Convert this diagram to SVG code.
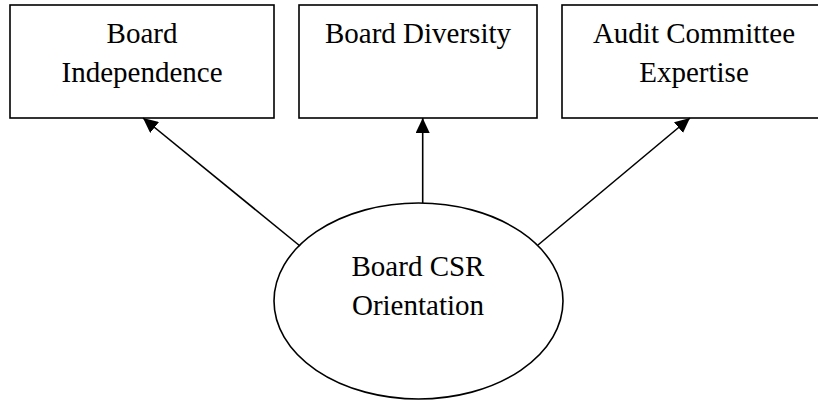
<svg xmlns="http://www.w3.org/2000/svg" width="818" height="400" viewBox="0 0 818 400">
<defs>
<style>
.box{fill:#fff;stroke:#000;stroke-width:1.6}
.lbl{font-family:"Liberation Serif","Times New Roman",serif;font-size:29px;fill:#000;text-anchor:middle}
.con{stroke:#000;stroke-width:1.6;fill:none}
</style>
<marker id="ah" markerUnits="userSpaceOnUse" markerWidth="16" markerHeight="14" refX="15" refY="7" orient="auto">
<path d="M0,0 L15,7 L0,14 Z" fill="#000"/>
</marker>
</defs>
<rect width="818" height="400" fill="#fff"/>
<g id="node-independence">
<rect class="box" x="10" y="5" width="264" height="113"/>
<text class="lbl" x="142" y="43">Board</text>
<text class="lbl" x="142" y="82">Independence</text>
</g>
<g id="node-diversity">
<rect class="box" x="299" y="5" width="238" height="113"/>
<text class="lbl" x="418" y="43">Board Diversity</text>
</g>
<g id="node-audit">
<rect class="box" x="562" y="5" width="264" height="113"/>
<text class="lbl" x="694" y="43">Audit Committee</text>
<text class="lbl" x="694" y="82">Expertise</text>
</g>
<g id="node-csr">
<ellipse class="box" cx="418.5" cy="301" rx="144.5" ry="98"/>
<text class="lbl" x="418" y="276">Board CSR</text>
<text class="lbl" x="418" y="315">Orientation</text>
</g>
<g id="connectors">
<line class="con" x1="300" y1="246" x2="143" y2="118" marker-end="url(#ah)"/>
<line class="con" x1="422.7" y1="203" x2="422.7" y2="118" marker-end="url(#ah)"/>
<line class="con" x1="538" y1="245" x2="690" y2="118" marker-end="url(#ah)"/>
</g>
</svg>
